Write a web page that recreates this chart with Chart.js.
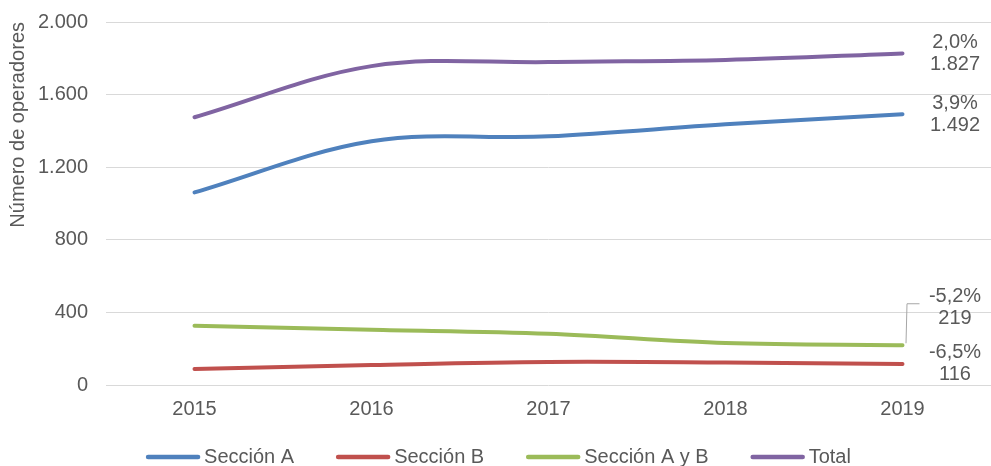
<!DOCTYPE html>
<html>
<head>
<meta charset="utf-8">
<script src="https://cdn.jsdelivr.net/npm/chart.js@4.4.1/dist/chart.umd.min.js"></script>
<style>
  html, body { margin: 0; padding: 0; background: #ffffff; }
  #wrap { width: 991px; height: 466px; position: relative; }
</style>
</head>
<body>
<div id="wrap"><canvas id="chart"></canvas></div>
<script>
// Operadores por año y sección
const years = ['2015', '2016', '2017', '2018', '2019'];
const seccionA = [1061, 1343, 1370, 1436, 1492];
const seccionB = [88, 110, 127, 124, 116];
const seccionAyB = [326, 304, 282, 231, 219];
const total = [1475, 1757, 1779, 1791, 1827];
// Variación 2019 frente a 2018
const variacionA = '3,9%';
const variacionB = '-6,5%';
const variacionAyB = '-5,2%';
const variacionTotal = '2,0%';
const yTicks = [0, 400, 800, 1200, 1600, 2000];

const TEXT = '#595959';
const FONT = '"Liberation Sans", Arial, sans-serif';

function miles(v) {
  return String(v).replace(/\B(?=(\d{3})+(?!\d))/g, '.');
}

const series = [
  { label: 'Sección A', data: seccionA, color: '#4F81BD', variacion: variacionA, shift: 0, leader: false },
  { label: 'Sección B', data: seccionB, color: '#C0504D', variacion: variacionB, shift: 0, leader: false },
  { label: 'Sección A y B', data: seccionAyB, color: '#9BBB59', variacion: variacionAyB, shift: -38, leader: true },
  { label: 'Total', data: total, color: '#8064A2', variacion: variacionTotal, shift: 0, leader: false }
];

// Etiquetas finales: variación y último valor de cada serie
const endLabels = {
  id: 'endLabels',
  afterDatasetsDraw(chart) {
    const ctx = chart.ctx;
    ctx.save();
    ctx.font = '20px ' + FONT;
    ctx.fillStyle = TEXT;
    ctx.textAlign = 'center';
    ctx.textBaseline = 'middle';
    const tx = 955;
    chart.data.datasets.forEach((ds, i) => {
      const meta = chart.getDatasetMeta(i);
      const pt = meta.data[meta.data.length - 1];
      const s = series[i];
      const cy = pt.y + s.shift;
      if (s.leader) {
        ctx.strokeStyle = '#A6A6A6';
        ctx.lineWidth = 1;
        ctx.beginPath();
        ctx.moveTo(pt.x + 3.5, pt.y - 2);
        ctx.lineTo(pt.x + 4.5, cy - 3.5);
        ctx.lineTo(pt.x + 17, cy - 3.5);
        ctx.stroke();
      }
      ctx.fillText(s.variacion, tx, cy - 11);
      ctx.fillText(miles(ds.data[ds.data.length - 1]), tx, cy + 11);
    });
    ctx.restore();
  }
};

// Leyenda inferior con trazo de línea por serie
const bottomLegend = {
  id: 'bottomLegend',
  afterDraw(chart) {
    const ctx = chart.ctx;
    ctx.save();
    ctx.font = '20px ' + FONT;
    ctx.textBaseline = 'middle';
    ctx.textAlign = 'left';
    const lineLen = 54, gapText = 4, gapItem = 42, y = 457;
    const items = chart.data.datasets.map(ds => ({
      text: ds.label, color: ds.borderColor, w: ctx.measureText(ds.label).width
    }));
    const totalW = items.reduce((a, it) => a + lineLen + gapText + it.w, 0) + gapItem * (items.length - 1);
    let x = chart.width / 2 - totalW / 2 + 3;
    items.forEach(it => {
      ctx.strokeStyle = it.color;
      ctx.lineWidth = 4.5;
      ctx.lineCap = 'round';
      ctx.beginPath();
      ctx.moveTo(x + 2, y);
      ctx.lineTo(x + lineLen - 2, y);
      ctx.stroke();
      x += lineLen + gapText;
      ctx.fillStyle = TEXT;
      ctx.fillText(it.text, x, y);
      x += it.w + gapItem;
    });
    ctx.restore();
  }
};

new Chart(document.getElementById('chart'), {
  type: 'line',
  data: {
    labels: years,
    datasets: series.map(s => ({
      label: s.label,
      data: s.data,
      borderColor: s.color,
      backgroundColor: s.color,
      borderWidth: 4,
      borderCapStyle: 'round',
      pointRadius: 0,
      pointHoverRadius: 0,
      tension: 0.35,
      fill: false
    }))
  },
  options: {
    responsive: true,
    maintainAspectRatio: false,
    animation: false,
    devicePixelRatio: 1,
    layout: { padding: { top: 22, right: -2, bottom: 33, left: 0 } },
    plugins: {
      tooltip: { enabled: false },
      legend: { display: false }
    },
    scales: {
      x: {
        offset: true,
        grid: { display: false, drawTicks: false },
        border: { display: false },
        ticks: { color: TEXT, font: { family: FONT, size: 20 }, padding: 12, maxRotation: 0 }
      },
      y: {
        min: 0,
        max: 2000,
        afterBuildTicks(scale) {
          scale.ticks = yTicks.map(v => ({ value: v }));
        },
        afterFit(scale) {
          scale.width = 106;
          scale.paddingTop = 0;
          scale.paddingBottom = 0;
        },
        grid: { color: '#D9D9D9', lineWidth: 1, drawTicks: false },
        border: { display: false },
        ticks: {
          color: TEXT,
          font: { family: FONT, size: 20 },
          padding: 18,
          callback: v => miles(v)
        },
        title: {
          display: true,
          text: 'Número de operadores',
          align: 'end',
          color: TEXT,
          font: { family: FONT, size: 20 },
          padding: { top: 6, bottom: 0 }
        }
      }
    }
  },
  plugins: [endLabels, bottomLegend]
});
</script>
</body>
</html>
